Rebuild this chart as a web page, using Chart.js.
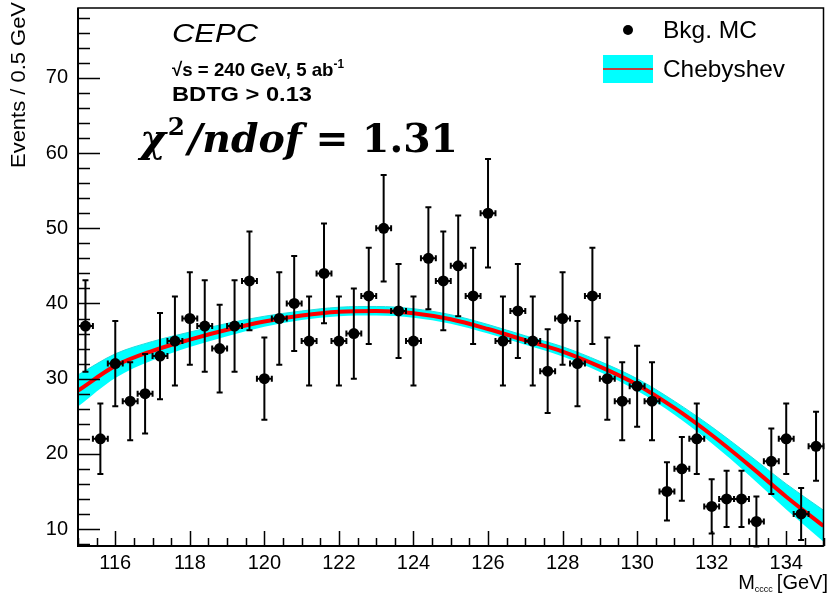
<!DOCTYPE html>
<html>
<head>
<meta charset="utf-8">
<script src="https://cdn.jsdelivr.net/npm/chart.js@4.4.0/dist/chart.umd.min.js"></script>
<style>
  html, body { margin: 0; padding: 0; background: #fff; }
  canvas { display: block; }
</style>
</head>
<body>
<canvas id="fitChart" width="829" height="593"></canvas>
<script>
// bin centres, 0.4 GeV bins from 115 to 135
const binCenters = [115.2, 115.6, 116.0, 116.4, 116.8, 117.2, 117.6, 118.0, 118.4, 118.8,
  119.2, 119.6, 120.0, 120.4, 120.8, 121.2, 121.6, 122.0, 122.4, 122.8,
  123.2, 123.6, 124.0, 124.4, 124.8, 125.2, 125.6, 126.0, 126.4, 126.8,
  127.2, 127.6, 128.0, 128.4, 128.8, 129.2, 129.6, 130.0, 130.4, 130.8,
  131.2, 131.6, 132.0, 132.4, 132.8, 133.2, 133.6, 134.0, 134.4, 134.8];
const bkgEvents = [37, 22, 32, 27, 28, 33, 35, 38, 37, 34,
  37, 43, 30, 38, 40, 35, 44, 35, 36, 41,
  50, 39, 35, 46, 43, 45, 41, 52, 35, 39,
  35, 31, 38, 32, 41, 30, 27, 29, 27, 15,
  18, 22, 13, 14, 14, 11, 19, 22, 12, 21];

const fitMass = [115, 116, 117, 118, 119, 120, 121, 122, 123, 124, 125,
  126, 127, 128, 129, 130, 131, 132, 133, 134, 135];
const fitValues = [28.4, 31.7, 33.7, 35.2, 36.5, 37.6, 38.4, 38.9, 39.0, 38.7, 37.9,
  36.6, 35.1, 33.6, 31.6, 29.2, 26.1, 22.5, 18.5, 14.3, 10.4];
const fitErrors = [2.1, 1.6, 1.25, 1.0, 0.85, 0.7, 0.6, 0.6, 0.6, 0.6, 0.6,
  0.6, 0.6, 0.65, 0.7, 0.8, 0.9, 1.1, 1.35, 1.7, 2.1];

const xTickLabels = [116, 118, 120, 122, 124, 126, 128, 130, 132, 134];
const yTickLabels = [10, 20, 30, 40, 50, 60, 70];

const FONT = "'Liberation Sans', Arial, Helvetica, sans-serif";

const points = binCenters.map((m, i) => ({ x: m, y: bkgEvents[i] }));
const fitLine = fitMass.map((m, i) => ({ x: m, y: fitValues[i] }));
const bandLow = fitMass.map((m, i) => ({ x: m, y: fitValues[i] - fitErrors[i] }));
const bandHigh = fitMass.map((m, i) => ({ x: m, y: fitValues[i] + fitErrors[i] }));

// draw a run of text pieces (for superscripts etc.), optionally squeezed/stretched to a width
function drawPieces(ctx, pieces, x, y, targetW) {
  let total = 0;
  pieces.forEach(p => { ctx.font = p.font; p.w = ctx.measureText(p.t).width; total += p.w + (p.gap || 0); });
  const s = targetW ? targetW / total : 1;
  ctx.save();
  ctx.translate(x, y);
  ctx.scale(s, 1);
  ctx.textAlign = "left";
  ctx.textBaseline = "alphabetic";
  let cx = 0;
  pieces.forEach(p => {
    ctx.font = p.font;
    ctx.fillText(p.t, cx, p.dy || 0);
    cx += p.w + (p.gap || 0);
  });
  ctx.restore();
}

const rootStyle = {
  id: "rootStyle",
  beforeDatasetDraw(chart, args) {
    if (args.index !== 0) return;
    const { ctx, scales: { x, y } } = chart;
    ctx.save();
    ctx.strokeStyle = "#000";
    ctx.lineWidth = 2;
    binCenters.forEach((m, i) => {
      const v = bkgEvents[i];
      const err = Math.sqrt(v);
      const px = x.getPixelForValue(m);
      const py = y.getPixelForValue(v);
      const yTop = y.getPixelForValue(v + err);
      const yBot = y.getPixelForValue(v - err);
      const xL = x.getPixelForValue(m - 0.2);
      const xR = x.getPixelForValue(m + 0.2);
      ctx.beginPath();
      ctx.moveTo(px, yTop); ctx.lineTo(px, yBot);
      ctx.moveTo(px - 3, yTop); ctx.lineTo(px + 3, yTop);
      ctx.moveTo(px - 3, yBot); ctx.lineTo(px + 3, yBot);
      ctx.moveTo(xL, py); ctx.lineTo(xR, py);
      ctx.moveTo(xL, py - 3); ctx.lineTo(xL, py + 3);
      ctx.moveTo(xR, py - 3); ctx.lineTo(xR, py + 3);
      ctx.stroke();
    });
    ctx.restore();
  },
  afterDraw(chart) {
    const { ctx, chartArea: a, scales: { x, y } } = chart;
    ctx.save();
    ctx.strokeStyle = "#000";
    ctx.fillStyle = "#000";

    // inward ticks, ROOT style
    ctx.lineWidth = 1.5;
    ctx.beginPath();
    for (let m = 115; m <= 135.001; m += 0.5) {
      const px = Math.round(x.getPixelForValue(m)) + 0.5;
      const len = xTickLabels.includes(Math.round(m * 10) / 10) ? 15 : 8;
      ctx.moveTo(px, a.bottom); ctx.lineTo(px, a.bottom - len);
    }
    for (let v = 8; v <= 78; v += 2) {
      const py = Math.round(y.getPixelForValue(v)) + 0.5;
      const len = yTickLabels.includes(v) ? 22 : 12;
      ctx.moveTo(a.left, py); ctx.lineTo(a.left + len, py);
    }
    ctx.stroke();

    // frame
    ctx.lineWidth = 1.5;
    ctx.strokeRect(a.left, a.top, a.right - a.left, a.bottom - a.top);
    ctx.lineWidth = 2;
    ctx.beginPath();
    ctx.moveTo(a.left, a.top); ctx.lineTo(a.left, a.bottom); ctx.lineTo(a.right, a.bottom);
    ctx.stroke();

    // axis titles
    ctx.save();
    ctx.translate(25, 168);
    ctx.rotate(-Math.PI / 2);
    drawPieces(ctx, [{ t: "Events / 0.5 GeV", font: "20px " + FONT }], 0, 0, 166);
    ctx.restore();

    ctx.font = "20px " + FONT;
    ctx.textAlign = "right";
    ctx.fillText("[GeV]", 828, 589);
    const w1 = ctx.measureText("[GeV]").width;
    ctx.font = "9px " + FONT;
    const w2 = ctx.measureText("cccc").width;
    ctx.fillText("cccc", 828 - w1 - 4, 592);
    ctx.font = "20px " + FONT;
    ctx.fillText("M", 828 - w1 - 4 - w2, 589);

    // annotations
    drawPieces(ctx, [{ t: "CEPC", font: "italic 26px " + FONT }], 172, 42, 86);
    drawPieces(ctx, [
      { t: "\u221As = 240 GeV, 5 ab", font: "bold 19px " + FONT },
      { t: "-1", font: "bold 12px " + FONT, dy: -8 }
    ], 172, 76, 172);
    drawPieces(ctx, [{ t: "BDTG > 0.13", font: "bold 20px " + FONT }], 172, 101, 140);
    const serif = "'DejaVu Serif', 'Liberation Serif', serif";
    drawPieces(ctx, [
      { t: "\u03C7", font: "italic bold 40px " + serif, gap: 2 },
      { t: "2", font: "bold 25px " + serif, dy: -17, gap: 3 },
      { t: "/ndof", font: "italic bold 40px " + serif, gap: 14 },
      { t: "= 1.31", font: "bold 40px " + serif }
    ], 140, 152, 318);

    // legend
    ctx.fillStyle = "#000";
    ctx.beginPath();
    ctx.arc(628, 30, 5, 0, Math.PI * 2);
    ctx.fill();
    ctx.fillStyle = "#00ffff";
    ctx.fillRect(603, 55, 50, 28);
    ctx.strokeStyle = "#ff0000";
    ctx.lineWidth = 1.5;
    ctx.beginPath();
    ctx.moveTo(603, 69); ctx.lineTo(653, 69);
    ctx.stroke();
    ctx.fillStyle = "#000";
    drawPieces(ctx, [{ t: "Bkg. MC", font: "24px " + FONT }], 663, 38, 94);
    drawPieces(ctx, [{ t: "Chebyshev", font: "24px " + FONT }], 663, 77, 122);
    ctx.restore();
  }
};

new Chart(document.getElementById("fitChart"), {
  type: "scatter",
  data: {
    datasets: [
      {
        label: "Bkg. MC",
        data: points,
        order: 0,
        pointRadius: 5.5,
        pointHoverRadius: 5.5,
        pointBackgroundColor: "#000",
        pointBorderColor: "#000",
        pointBorderWidth: 0,
        showLine: false
      },
      {
        label: "band low",
        data: bandLow,
        order: 3,
        showLine: true,
        pointRadius: 0,
        borderWidth: 0,
        borderColor: "rgba(0,0,0,0)",
        cubicInterpolationMode: "monotone",
        fill: false
      },
      {
        label: "Chebyshev band",
        data: bandHigh,
        order: 3,
        showLine: true,
        pointRadius: 0,
        borderWidth: 1,
        borderColor: "#22dddd",
        backgroundColor: "#00ffff",
        cubicInterpolationMode: "monotone",
        fill: "-1"
      },
      {
        label: "Chebyshev",
        data: fitLine,
        order: 1,
        showLine: true,
        pointRadius: 0,
        borderWidth: 4,
        borderColor: "#ff0000",
        cubicInterpolationMode: "monotone",
        fill: false
      }
    ]
  },
  options: {
    responsive: false,
    animation: false,
    devicePixelRatio: 1,
    layout: { padding: { top: 8, right: 2, left: 0, bottom: 0 } },
    plugins: { legend: { display: false }, tooltip: { enabled: false } },
    scales: {
      x: {
        type: "linear",
        min: 115,
        max: 135,
        afterBuildTicks: s => { s.ticks = xTickLabels.map(v => ({ value: v })); },
        afterFit: s => { s.height = 47; s.paddingLeft = 0; s.paddingRight = 0; },
        grid: { display: false, drawTicks: false },
        border: { display: false },
        ticks: { autoSkip: false, maxRotation: 0, padding: 5, color: "#000", font: { family: FONT, size: 20 } }
      },
      y: {
        type: "linear",
        min: 7.74,
        max: 79.3,
        afterBuildTicks: s => { s.ticks = yTickLabels.map(v => ({ value: v })); },
        afterFit: s => { s.width = 78; s.paddingTop = 0; s.paddingBottom = 0; },
        grid: { display: false, drawTicks: false },
        border: { display: false },
        ticks: { padding: 10, color: "#000", font: { family: FONT, size: 20 } }
      }
    }
  },
  plugins: [rootStyle]
});
</script>
</body>
</html>
